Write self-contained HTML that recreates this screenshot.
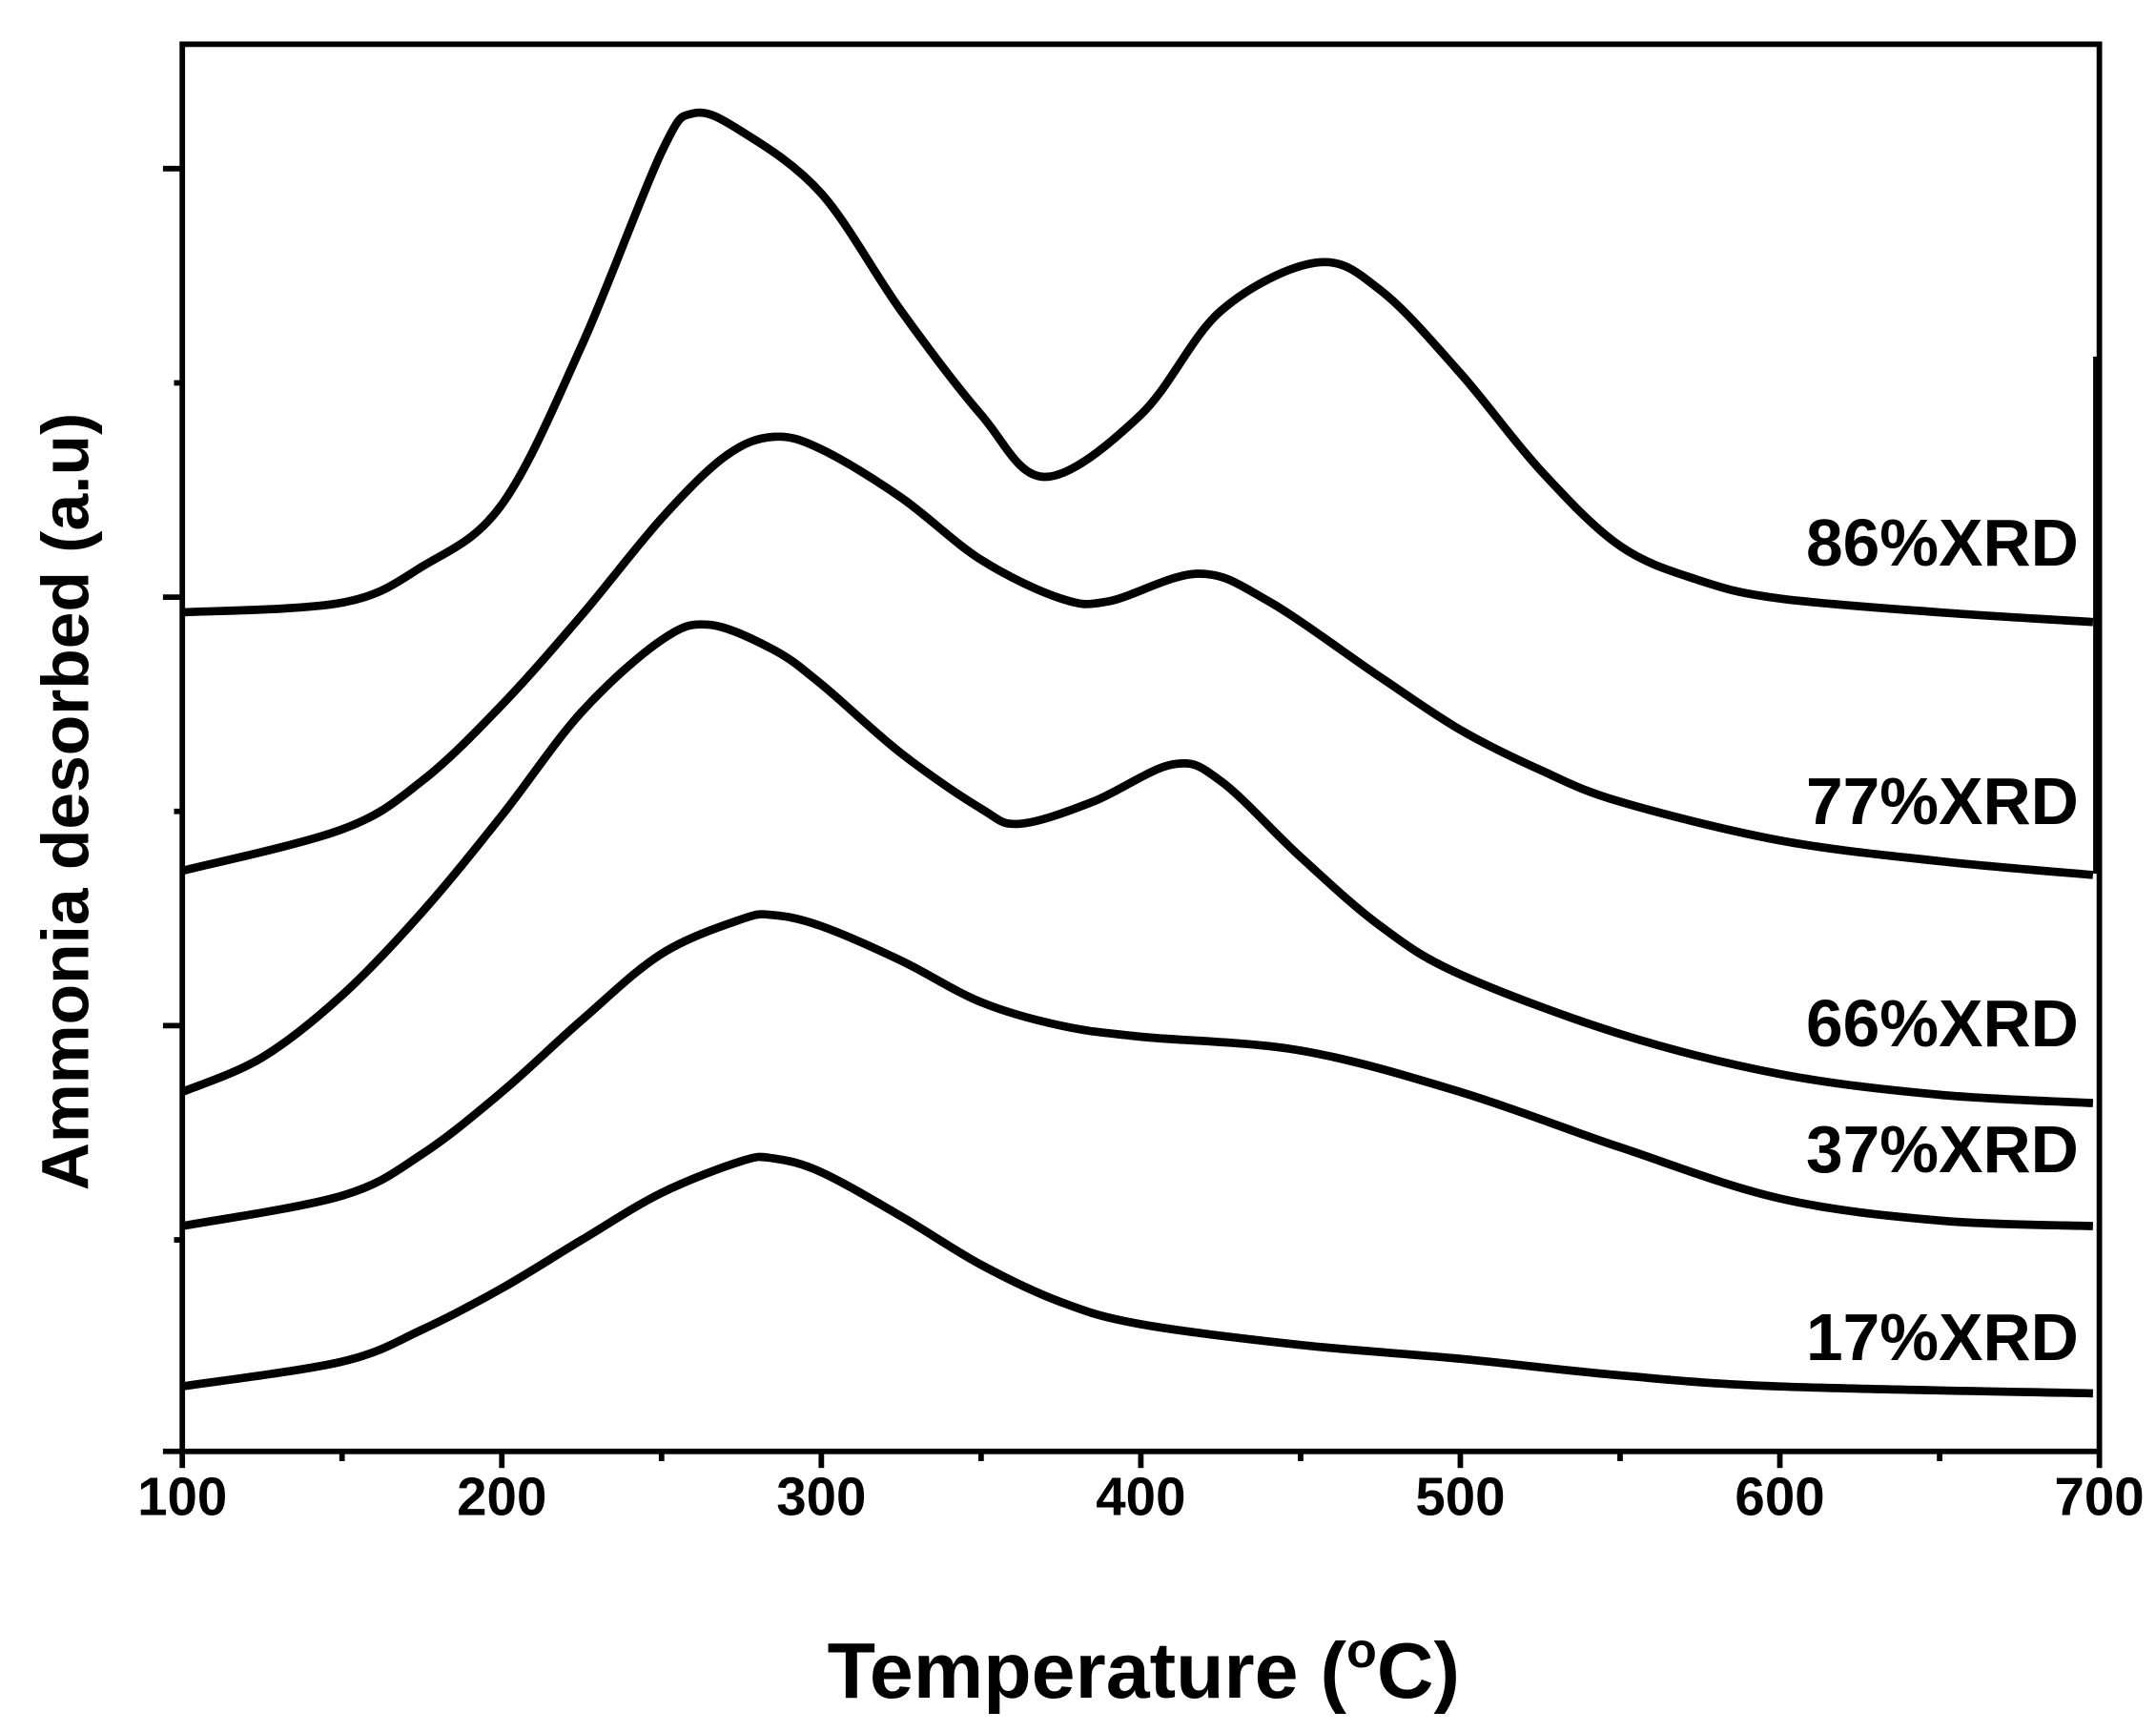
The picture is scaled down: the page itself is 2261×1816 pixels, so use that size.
<!DOCTYPE html>
<html><head><meta charset="utf-8"><style>
html,body{margin:0;padding:0;background:#fff;}
svg{display:block;font-family:"Liberation Sans",Arial,sans-serif;font-weight:bold;}
</style></head><body>
<svg id="chart" width="2261" height="1816" viewBox="0 0 1561 1253" preserveAspectRatio="none" xmlns="http://www.w3.org/2000/svg">
<g id="axes"></g>
<g id="series"></g>
<g id="labels"></g>
</svg>
<script>
const xTicks=[100,200,300,400,500,600,700];
const xMinor=[150,250,350,450,550,650];
const temps86=[100,150,175,200,225,250,260,275,300,325,350,370,400,425,455,475,500,525,550,575,600,650,698];
const vals86=[443,436,410,365,250,110,82,95,140,225,300,345,300,225,190,210,270,340,395,420,433,443,450];
const temps77=[100,150,175,200,225,250,270,285,300,325,350,375,390,418,440,475,500,525,550,600,650,698];
const vals77=[630,600,565,510,445,375,330,316,325,360,405,433,435,415,435,490,528,557,580,608,623,633];
const temps66=[100,125,150,175,200,225,250,265,285,300,325,350,362,385,410,425,450,475,500,550,600,650,698];
const vals66=[790,765,720,660,590,515,463,452,470,495,545,585,596,580,553,565,620,670,705,748,777,792,798];
const temps37=[100,150,175,200,225,250,275,285,300,325,350,375,400,450,500,550,600,650,698];
const vals37=[887,865,835,790,738,690,665,662,670,695,725,742,750,760,790,830,867,883,887];
const temps17=[100,150,175,200,225,250,275,285,300,325,350,375,400,450,500,550,600,698];
const vals17=[1003,985,962,932,897,863,840,838,848,880,915,942,958,973,983,995,1003,1008];
const seriesNames=["86%XRD","77%XRD","66%XRD","37%XRD","17%XRD"];
const seriesT=[temps86,temps77,temps66,temps37,temps17];
const seriesV=[vals86,vals77,vals66,vals37,vals17].map(a=>a.map(v=>(1050-v)/100));
const labelY=[409,596,757,848,984];
const NS="http://www.w3.org/2000/svg";
const X0=132,X1=1520,Y0=1050,Y1=32;
const xs=t=>X0+(t-100)/600*(X1-X0);
const ys=v=>Y0-v*100;
function mk(tag,attrs,parent){const e=document.createElementNS(NS,tag);for(const k in attrs)e.setAttribute(k,attrs[k]);parent.appendChild(e);return e;}
const axes=document.getElementById('axes');
const box=mk('rect',{x:X0,y:Y1,width:X1-X0,height:Y0-Y1,fill:'none',stroke:'#000','stroke-width':4},axes);


const rs=mk('line',{x1:X1-2,y1:258,x2:X1-2,y2:632,stroke:'#000','stroke-width':5},axes);


xTicks.forEach(t=>{
 const l=mk('line',{x1:xs(t),y1:Y0,x2:xs(t),y2:Y0+12,stroke:'#000','stroke-width':4},axes);
 
 
 const tx=mk('text',{x:xs(t),y:1096,'text-anchor':'middle','font-size':39},axes);
 tx.textContent=t;
 
 
});
xMinor.forEach(t=>{
 const l=mk('line',{x1:xs(t),y1:Y0,x2:xs(t),y2:Y0+7,stroke:'#000','stroke-width':4},axes);
 
 
});
[122,277,432,587,742,897].forEach((y,i)=>{
 const l=mk('line',{x1:i%2?X0-6:X0-14,y1:y,x2:X0,y2:y,stroke:'#000','stroke-width':4},axes);
 
 
});
const l0=mk('line',{x1:X0-14,y1:Y0,x2:X0,y2:Y0,stroke:'#000','stroke-width':4},axes);


const xt=mk('text',{x:828,y:1228,'text-anchor':'middle','font-size':57},axes);
xt.innerHTML='Temperature (<tspan font-size="36" dy="-22">o</tspan><tspan dy="22">C)</tspan>';


const yt=mk('text',{x:0,y:0,'text-anchor':'middle','font-size':48,transform:'translate(64,580) rotate(-90)'},axes);
yt.textContent='Ammonia desorbed (a.u)';


function path(pts){
 let d=`M${pts[0][0]},${pts[0][1]}`;
 for(let i=0;i<pts.length-1;i++){
  const p0=pts[Math.max(i-1,0)],p1=pts[i],p2=pts[i+1],p3=pts[Math.min(i+2,pts.length-1)];
  const c1=[p1[0]+(p2[0]-p0[0])/6,p1[1]+(p2[1]-p0[1])/6];
  const c2=[p2[0]-(p3[0]-p1[0])/6,p2[1]-(p3[1]-p1[1])/6];
  d+=`C${c1[0]},${c1[1]} ${c2[0]},${c2[1]} ${p2[0]},${p2[1]}`;
 }
 return d;
}
const sg=document.getElementById('series'),lg=document.getElementById('labels');
seriesNames.forEach((n,i)=>{
 const pts=seriesT[i].map((t,j)=>[xs(t),ys(seriesV[i][j])]);
 const p=mk('path',{d:path(pts),fill:'none',stroke:'#000','stroke-width':6,'stroke-linejoin':'round'},sg);
 
 
 const t=mk('text',{x:1505,y:labelY[i],'text-anchor':'end','font-size':48},lg);
 t.textContent=n;
 
 
});
</script>
</body></html>
